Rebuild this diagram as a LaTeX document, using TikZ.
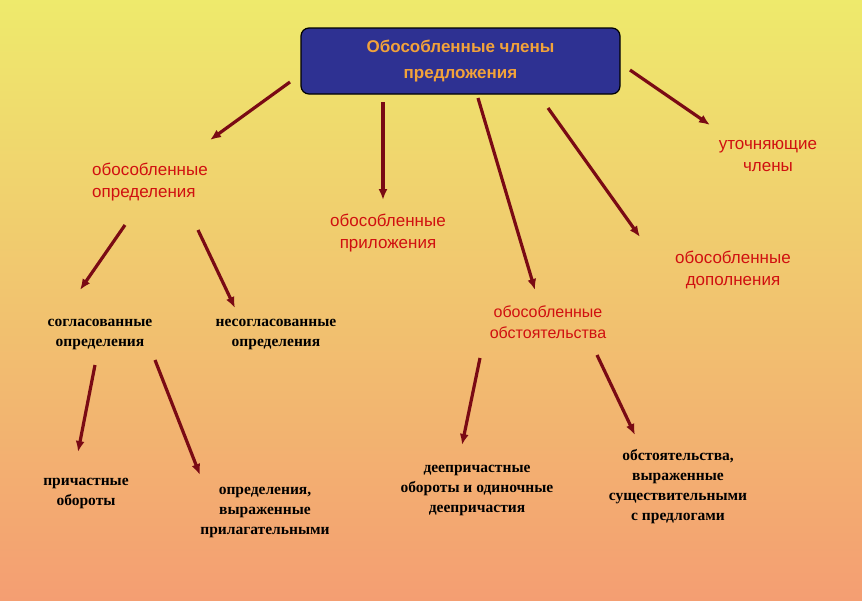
\documentclass[tikz,border=0pt]{standalone}
\usepackage{fontspec}
\usetikzlibrary{arrows.meta}
\setmainfont{Liberation Serif}
\newfontfamily\arialb{Liberation Sans}
\definecolor{arr}{HTML}{7A0A14}
\definecolor{lab}{HTML}{D01010}
\definecolor{boxblue}{HTML}{2E3192}
\definecolor{boxtxt}{HTML}{F2A23A}
\begin{document}
\begin{tikzpicture}[x=1pt,y=-1pt,
  arrowline/.style={draw=arr,line width=3.2pt,-{Latex[length=11pt,width=9pt]}},
  redlab/.style={text=lab,font=\arialb\fontsize{17}{22}\selectfont,align=left},
  blk/.style={text=black,font=\bfseries\fontsize{15.5}{20}\selectfont,align=center}]
\useasboundingbox (0,0) rectangle (862,600);
\shade[top color={rgb,255:red,238;green,234;blue,108},bottom color={rgb,255:red,244;green,158;blue,114}] (0,0) rectangle (862,600);
\node[draw=black,line width=1.2pt,fill=boxblue,rounded corners=8pt,minimum width=319pt,minimum height=66pt,text=boxtxt,font=\arialb\bfseries\fontsize{17}{26}\selectfont,align=center] (top) at (460.5,61) {Обособленные члены\\предложения};
\node[redlab] (def) at (150,182) {обособленные\\определения};
\node[redlab,align=center] (pril) at (388,233) {обособленные\\приложения};
\node[redlab,align=center,font=\arialb\fontsize{16}{21}\selectfont] (obst) at (548,322) {обособленные\\обстоятельства};
\node[redlab,align=center] (dop) at (733,270) {обособленные\\дополнения};
\node[redlab,align=center] (ut) at (768,156) {уточняющие\\члены};
\node[blk] (sogl) at (100,334) {согласованные\\определения};
\node[blk] (nesogl) at (276,334) {несогласованные\\определения};
\node[blk] (prich) at (86,493) {причастные\\обороты};
\node[blk] (oprv) at (265,512) {определения,\\выраженные\\прилагательными};
\node[blk] (deepr) at (477,490) {деепричастные\\обороты и одиночные\\деепричастия};
\node[blk] (obsv) at (678,487) {обстоятельства,\\выраженные\\существительными\\с предлогами};
\coordinate (a1) at (290,82); \coordinate (b1) at (210,140);
\coordinate (a2) at (383,102); \coordinate (b2) at (383,200);
\coordinate (a3) at (478,98); \coordinate (b3) at (535,290);
\coordinate (a4) at (548,108); \coordinate (b4) at (640,237);
\coordinate (a5) at (630,70); \coordinate (b5) at (710,125);
\coordinate (a6) at (125,225); \coordinate (b6) at (80,290);
\coordinate (a7) at (198,230); \coordinate (b7) at (235,308);
\coordinate (a8) at (95,365); \coordinate (b8) at (78,452);
\coordinate (a9) at (155,360); \coordinate (b9) at (200,475);
\coordinate (a10) at (480,358); \coordinate (b10) at (462,445);
\coordinate (a11) at (597,355); \coordinate (b11) at (635,435);
\foreach \i in {1,...,11} \draw[arrowline] (a\i) -- (b\i);
\end{tikzpicture}
\end{document}
